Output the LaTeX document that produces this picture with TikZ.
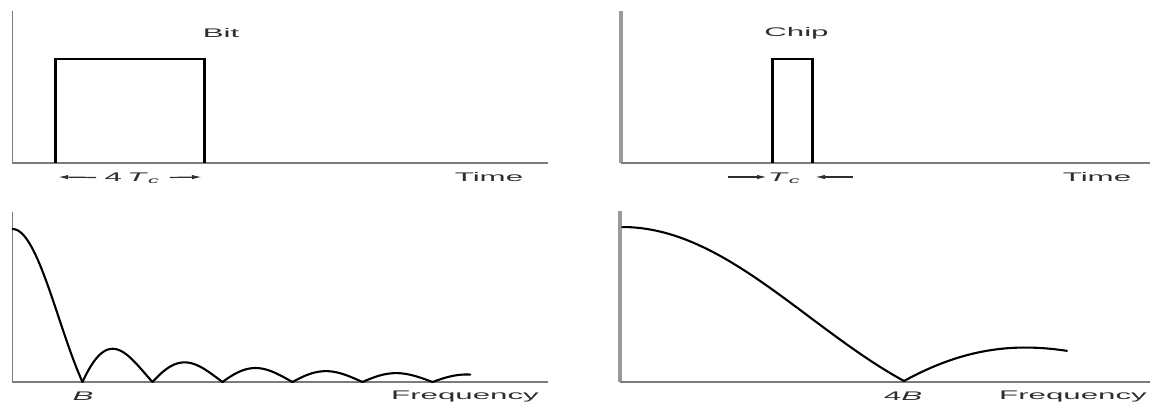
\documentclass[tikz,border=0pt]{standalone}
\usepackage{graphicx}
\usepackage{fontspec}
\setmainfont{Liberation Sans}
\usepackage{tikz}
\usetikzlibrary{arrows.meta}
\definecolor{axisgray}{HTML}{7C7C7C}
\definecolor{bargray}{HTML}{9A9A9A}
\definecolor{ink}{HTML}{2E2E2E}
\newcommand{\wide}[1]{\scalebox{2.5}[1]{#1}}
\newcommand{\Tc}{\textit{T}\textsubscript{\textit{c}}}

\begin{document}
\begin{tikzpicture}[x=0.5pt,y=-0.5pt,>=Latex,font=\fontsize{6.25}{7.5}\selectfont]
\tikzset{
  axisline/.style={draw=axisgray,line width=0.8pt},
  axisbar/.style={draw=bargray,line width=2pt},
  pulse/.style={draw=black,line width=1pt,line join=miter},
  pulseside/.style={draw=black,line width=1.5pt},
  spectrum/.style={draw=black,line width=1.05pt,line cap=round,line join=round},
  lbl/.style={text=ink,inner sep=0pt},
  dimarrow/.style={-{Latex[length=5pt,width=2.2pt]},line width=0.6pt,draw=ink}
}
\useasboundingbox (0,0) rectangle (1152,405);

% top left: bit pulse
\draw[axisline] (12.5,11) -- (12.5,163) -- (548,163);
\draw[pulse] (55,59) -- (204,59);
\draw[pulseside] (55,163) -- (55,58.5) (204,58.5) -- (204,163);
\node[lbl] (bit) at (221,33) {\wide{Bit}};
\node[lbl] (timeA) at (489,177) {\wide{Time}};
\node[lbl,inner xsep=4pt] (bitdim) at (133,178) {\wide{4\,\Tc}};
\coordinate (bitL) at (58,177);
\coordinate (bitR) at (202,177);
\draw[dimarrow] (bitdim) -- (bitL);
\draw[dimarrow] (bitdim) -- (bitR);

% top right: chip pulse
\draw[axisbar] (621,11) -- (621,163);
\draw[axisline] (621,163) -- (1150,163);
\draw[pulse] (772,59) -- (812,59);
\draw[pulseside] (772,163) -- (772,58.5) (812,58.5) -- (812,163);
\node[lbl] (chip) at (796.5,33) {\wide{Chip}};
\node[lbl] (timeB) at (1097,177) {\wide{Time}};
\node[lbl] (chipdim) at (785,178) {\wide{\Tc}};
\coordinate (chipinA) at (728,177);
\coordinate (chiptipA) at (767,177);
\coordinate (chipinB) at (853,177);
\coordinate (chiptipB) at (815,177);
\draw[dimarrow] (chipinA) -- (chiptipA);
\draw[dimarrow] (chipinB) -- (chiptipB);

% bottom left: spectrum of the bit
\draw[axisline] (12.5,212) -- (12.5,382) -- (548,382);
\draw[spectrum] plot[domain=0.001:1,samples=60] ({12.5+70*\x},{382-153*abs(sin(180*\x)/(pi*\x))});
\foreach \a/\b in {1/2,2/3,3/4,4/5,5/6,6/6.54}
  \draw[spectrum] plot[domain=\a:\b,samples=40] ({12.5+70*\x},{382-153*abs(sin(180*\x)/(pi*\x))});
\node[lbl] (bandA) at (83,396) {\wide{\textit{B}}};
\node[lbl] (freqA) at (465,396) {\wide{Frequency}};

% bottom right: spectrum of the chip
\draw[axisbar] (620,211) -- (620,382);
\draw[axisline] (620,382) -- (1150,382);
\draw[spectrum] plot[domain=0.001:1,samples=80] ({622+282*\x},{381-154*abs(sin(180*\x)/(pi*\x))});
\draw[spectrum] plot[domain=1:1.578,samples=50] ({622+282*\x},{381-154*abs(sin(180*\x)/(pi*\x))});
\node[lbl] (bandB) at (903,396) {\wide{4\textit{B}}};
\node[lbl] (freqB) at (1073,396) {\wide{Frequency}};
\end{tikzpicture}
\end{document}
